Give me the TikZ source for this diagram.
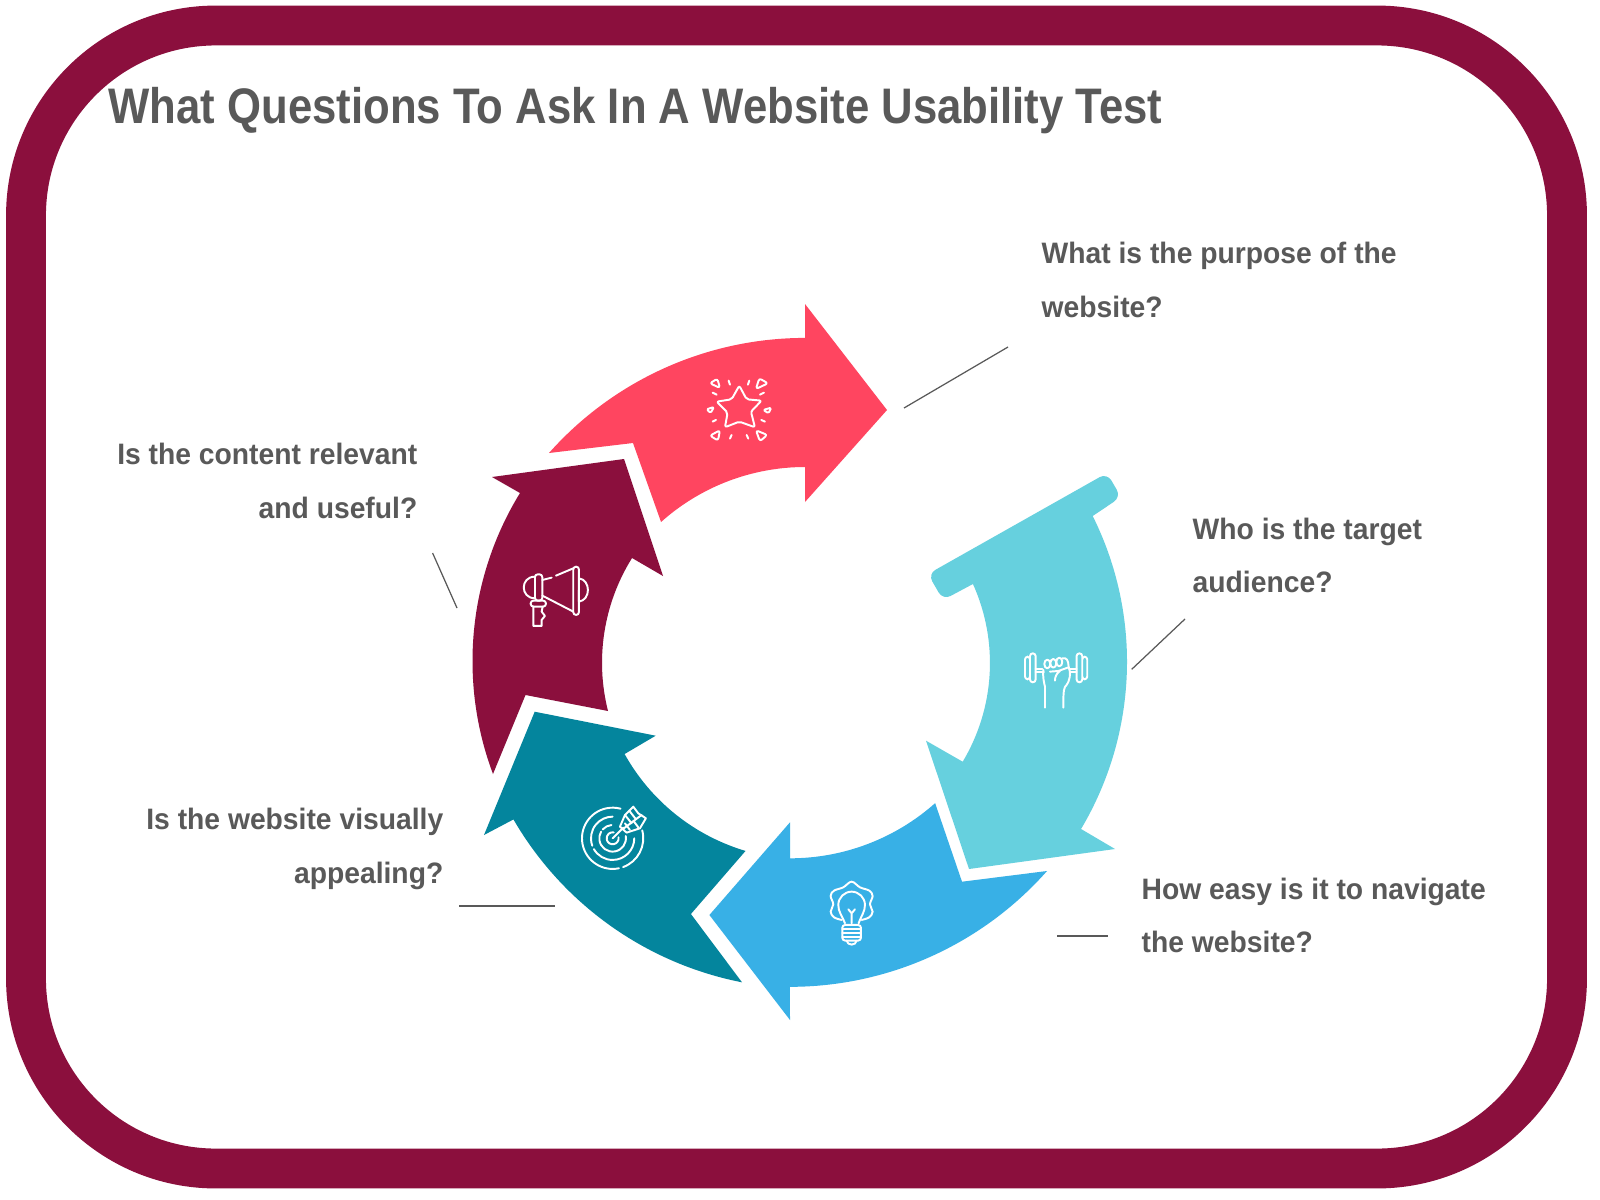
\documentclass[tikz,border=0pt]{standalone}
\usepackage{fontspec}
\setmainfont{Liberation Sans}
\newfontfamily\titlefont[FakeStretch=0.875]{Liberation Sans}
\newfontfamily\labelfont[FakeStretch=0.957]{Liberation Sans}
\definecolor{framemaroon}{HTML}{8B0F3D}
\definecolor{arrowred}{HTML}{FF4560}
\definecolor{arrowaqua}{HTML}{66D0DE}
\definecolor{arrowblue}{HTML}{38B0E6}
\definecolor{arrowteal}{HTML}{04859D}
\definecolor{textgrey}{HTML}{595959}
\tikzset{
    titletext/.style={inner sep=0pt, text=textgrey, font=\titlefont\fontsize{14.2}{17}\selectfont\bfseries},
    labeltext/.style={inner sep=0pt, text=textgrey, font=\labelfont\fontsize{8.4}{15.3}\selectfont\bfseries},
    leader/.style={draw=textgrey, line width=0.35pt},
    iconline/.style={draw=white, line width=0.55pt, line cap=round, line join=round},
}
\begin{document}
\begin{tikzpicture}[x=0.01cm, y=-0.01cm]
    \useasboundingbox (0,0) rectangle (1600,1200);
    \fill[white] (0,0) rectangle (1600,1200);
    \draw[framemaroon, line width=40*0.2835pt, rounded corners=54pt] (26,25.5) rectangle (1567,1168.5);

    \node[titletext, anchor=base west] (title) at (108,123) {What Questions To Ask In A Website Usability Test};

    % Five arrows of the ring
    \fill[arrowred] (549,453) arc[start angle=-138.4, end angle=-90, radius=342.4] -- (805,304) -- (887,410)
        -- (805,502) -- (805,467) arc[start angle=-90, end angle=-131.8, radius=216] -- (633,443) -- cycle;
    \fill[arrowaqua] (1092.7,516) arc[start angle=-26.48, end angle=30.75, radius=327] -- (1115,849) -- (969,869)
        -- (926,740.7) -- (962.7,761.7) arc[start angle=30.9, end angle=-24.3, radius=192.1]
        [rounded corners=2.4pt] -- (943,600) -- (928,574) -- (1107,473) -- (1121,497) [sharp corners] -- cycle;
    \fill[arrowblue] (709.4,915) -- (790,822.3) -- (790,858.3) arc[start angle=90, end angle=48.4, radius=218.6]
        -- (962,881.7) -- (1047,871) arc[start angle=41.5, end angle=90, radius=343.3] -- (790,1020) -- cycle;
    \fill[arrowteal] (534.7,711.7) -- (655.7,735.7) -- (624.6,754) arc[start angle=150.92, end angle=106.5, radius=205]
        -- (690.9,914) -- (742,982.3) arc[start angle=101.1, end angle=149.85, radius=340] -- (484,835) -- cycle;
    \fill[framemaroon] (624,459) -- (492,477) -- (520,493) arc[start angle=211.56, end angle=159.42, radius=321.2]
        -- (525.5,695) -- (608,711) arc[start angle=165.85, end angle=212, radius=197.6] -- (663,576) -- cycle;

    % Star
    \begin{scope}[shift={(690,370)}, scale=0.333]
        \draw[iconline, rounded corners=0.6pt] (148,47) -- (170,88) -- (215,92) -- (183,125) -- (195,172) -- (148,155)
            -- (105,172) -- (113,128) -- (80,95) -- (125,88) -- cycle;
        \draw[iconline, rounded corners=0.7pt] (60,40) -- (82,26) -- (90,54) -- cycle (198,57) -- (208,25) -- (234,40) -- cycle;
        \draw[iconline, rounded corners=0.4pt] (50,118) -- (72,111) -- (62,129) -- cycle (220,120) -- (244,113) -- (236,130) -- cycle;
        \draw[iconline, rounded corners=0.7pt] (60,197) -- (90,181) -- (84,212) -- cycle (198,181) -- (232,195) -- (210,214) -- cycle;
        \foreach \xa/\ya/\xb/\yb in {116/32/120/44, 178/32/174/44, 68/68/80/74, 222/68/210/74,
                68/155/78/150, 225/155/214/150, 125/195/120/206, 170/195/175/206}
            \draw[iconline] (\xa,\ya) -- (\xb,\yb);
    \end{scope}

    % Dumbbell
    \begin{scope}[shift={(1010,640)}, scale=0.333]
        \draw[iconline, rounded corners=0.8pt] (45,50) rectangle (60,118) (60,40) rectangle (77,127);
        \draw[iconline, rounded corners=0.8pt] (200,40) rectangle (217,127) (217,50) rectangle (232,118);
        \draw[iconline] (77,87) -- (97,87) (77,97) -- (102,97) (178,87) -- (200,87) (180,97) -- (200,97);
        \foreach \xc/\yc in {112/72, 130/70, 148/66}
            \draw[iconline] (\xc,\yc) ellipse[x radius=9, y radius=13];
        \draw[iconline] (157,55) .. controls (170,52) and (175,60) .. (176,80) .. controls (185,100) and (178,125) .. (170,135)
            .. controls (162,142) and (160,148) .. (160,203);
        \draw[iconline] (100,90) .. controls (98,110) and (102,128) .. (105,140) -- (105,203);
        \draw[iconline] (120,95) -- (145,93) -- (176,82) (150,93) .. controls (140,100) and (135,110) .. (135,122);
    \end{scope}

    % Bulb
    \begin{scope}[shift={(810,870)}, scale=0.333]
        \draw[iconline] plot[smooth, tension=0.6] coordinates {(95,150) (72,142) (62,125) (70,103) (62,78) (72,62)
            (100,52) (125,35) (150,52) (178,62) (188,78) (180,103) (188,125) (178,142) (155,150)};
        \draw[iconline] (105,160) .. controls (95,135) and (85,125) .. (85,105) .. controls (85,83) and (103,65) .. (125,65)
            .. controls (147,65) and (165,83) .. (165,105) .. controls (165,125) and (155,135) .. (146,160);
        \draw[iconline] (125,160) -- (125,130) (115,118) -- (125,130) -- (135,118);
        \draw[iconline, rounded corners=0.8pt] (97,165) rectangle (153,212);
        \foreach \yl in {178,190,201}
            \draw[iconline] (97,\yl) -- (153,\yl);
        \draw[iconline] (110,212) .. controls (112,228) and (138,228) .. (140,212);
    \end{scope}

    % Target
    \begin{scope}[shift={(570,790)}, scale=0.333]
        \foreach \rad/\from/\to in {92/-15/70, 92/78/285, 65/0/150, 65/160/270, 40/-10/210, 40/222/265, 18/-10/280}
            \draw[iconline] (128,145) ++(\from:\rad) arc[start angle=\from, end angle=\to, radius=\rad];
        \draw[iconline] (128,145) -- (160,113);
        \draw[iconline] (150,110) -- (165,75) -- (190,50) -- (205,70) -- (228,85) -- (210,115) -- (170,128) -- cycle;
        \draw[iconline] (158,118) -- (215,75) (165,75) -- (185,100) (178,62) -- (198,88) (165,100) -- (180,120) (190,92) -- (205,112);
    \end{scope}

    % Megaphone
    \begin{scope}[shift={(510,555)}, scale=0.333]
        \draw[iconline] (75,65) .. controls (30,65) and (30,130) .. (75,130);
        \draw[iconline, rounded corners=0.8pt] (75,58) rectangle (97,137) (190,35) rectangle (207,180);
        \draw[iconline] (97,75) -- (125,68) (138,62) -- (190,40) (97,122) -- (190,170);
        \draw[iconline] (207,70) .. controls (243,75) and (243,135) .. (207,140) (207,105) -- (207,140);
        \draw[iconline, rounded corners=0.8pt] (62,137) rectangle (108,155);
        \draw[iconline] (70,155) -- (70,213) -- (95,213) -- (95,195) -- (105,183) -- (95,170) -- (98,155);
    \end{scope}

    % Labels and their leader lines
    \node[labeltext, anchor=north west, align=left] (purpose) at (1041,241.5) {What is the purpose of the\\website?};
    \node[labeltext, anchor=north west, align=left] (audience) at (1192,517) {Who is the target\\audience?};
    \node[labeltext, anchor=north west, align=left] (navigate) at (1141,877) {How easy is it to navigate\\the website?};
    \node[labeltext, anchor=north east, align=right] (visual) at (444,807.5) {Is the website visually\\appealing?};
    \node[labeltext, anchor=north east, align=right] (content) at (418,442.5) {Is the content relevant\\and useful?};

    \coordinate (purposeA) at (904,408);
    \coordinate (purposeB) at (1008,347);
    \coordinate (audienceA) at (1131.7,669.3);
    \coordinate (audienceB) at (1185,619);
    \coordinate (navigateA) at (1057,936);
    \coordinate (navigateB) at (1108,936);
    \coordinate (visualA) at (459,906);
    \coordinate (visualB) at (555,906);
    \coordinate (contentA) at (432.6,553);
    \coordinate (contentB) at (457,608);
    \foreach \lead in {purpose,audience,navigate,visual,content}
        \draw[leader] (\lead A) -- (\lead B);
\end{tikzpicture}
\end{document}
